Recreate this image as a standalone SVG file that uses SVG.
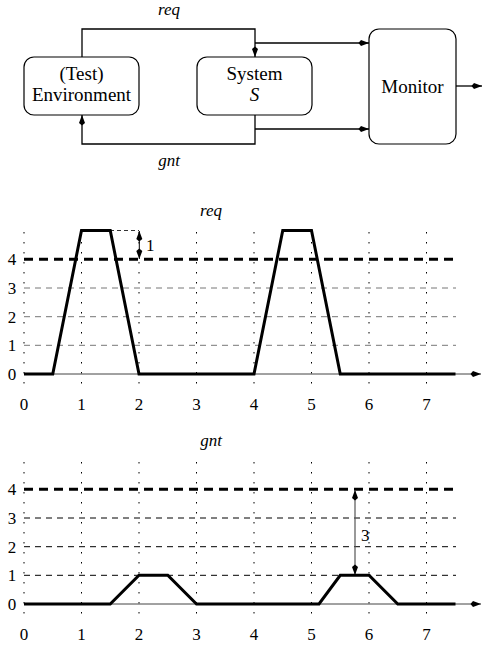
<svg xmlns="http://www.w3.org/2000/svg" width="482" height="647" viewBox="0 0 482 647" font-family="Liberation Serif, DejaVu Serif, serif">
<defs>
<marker id="ah" markerWidth="12" markerHeight="8" refX="11" refY="4" orient="auto" markerUnits="userSpaceOnUse">
<path d="M11,4 L3,1 L0.5,4 L3,7 Z" fill="#000"/>
</marker>
<marker id="ahs" markerWidth="12" markerHeight="8" refX="11" refY="4" orient="auto-start-reverse" markerUnits="userSpaceOnUse">
<path d="M11,4 L3,1 L0.5,4 L3,7 Z" fill="#000"/>
</marker>
</defs>
<style>
.box{fill:#fff;stroke:#000;stroke-width:1.2}
.t{font-size:19px;fill:#000}
.n{font-size:17px;fill:#000}
.i{font-style:italic}
.wire{fill:none;stroke:#000;stroke-width:1.3}
.grid1{stroke:#777;stroke-width:1;stroke-dasharray:6 5}
.grid2{stroke:#000;stroke-width:1;stroke-dasharray:6 5}
.thr{stroke:#000;stroke-width:3;stroke-dasharray:9 6}
.vdot{stroke:#000;stroke-width:1;stroke-dasharray:1.5 8.5}
.axis{stroke:#444;stroke-width:1;fill:none}
.sig{fill:none;stroke:#000;stroke-width:3;stroke-linejoin:miter}
</style>

<!-- Block diagram -->
<g id="connectors">
<path class="wire" d="M82,57 V29 H255 V57" marker-end="url(#ah)"/>
<path class="wire" d="M255,43 H369" marker-end="url(#ah)"/>
<path class="wire" d="M255,115 V144 H82 V115" marker-end="url(#ah)"/>
<path class="wire" d="M255,129 H369" marker-end="url(#ah)"/>
<path class="wire" d="M456,86 H482" marker-end="url(#ah)"/>
<text class="n i" x="169" y="15" text-anchor="middle">req</text>
<text class="n i" x="169" y="166" text-anchor="middle">gnt</text>
</g>
<g id="environment">
<rect class="box" x="24" y="57" width="115" height="58" rx="10"/>
<text class="t" x="81.5" y="80" text-anchor="middle">(Test)</text>
<text class="t" x="81.5" y="101" text-anchor="middle">Environment</text>
</g>
<g id="system">
<rect class="box" x="197" y="57" width="115" height="58" rx="10"/>
<text class="t" x="254.5" y="80" text-anchor="middle">System</text>
<text class="t i" x="254.5" y="101" text-anchor="middle">S</text>
</g>
<g id="monitor">
<rect class="box" x="369" y="29" width="87" height="115" rx="10"/>
<text class="t" x="412.5" y="93" text-anchor="middle">Monitor</text>
</g>

<!-- Chart req -->
<g id="chart-req">
<text class="n i" x="211" y="216" text-anchor="middle">req</text>
<g>
<line class="vdot" x1="24" y1="232" x2="24" y2="386"/>
<line class="vdot" x1="81.5" y1="232" x2="81.5" y2="386"/>
<line class="vdot" x1="139" y1="232" x2="139" y2="386"/>
<line class="vdot" x1="196.5" y1="232" x2="196.5" y2="386"/>
<line class="vdot" x1="254" y1="232" x2="254" y2="386"/>
<line class="vdot" x1="311.5" y1="232" x2="311.5" y2="386"/>
<line class="vdot" x1="369" y1="232" x2="369" y2="386"/>
<line class="vdot" x1="426.5" y1="232" x2="426.5" y2="386"/>
</g>
<line class="grid1" x1="24" y1="345.3" x2="456" y2="345.3"/>
<line class="grid1" x1="24" y1="316.7" x2="456" y2="316.7"/>
<line class="grid1" x1="24" y1="288" x2="456" y2="288"/>
<line class="thr" x1="24" y1="259.3" x2="456" y2="259.3"/>
<line x1="110" y1="230.5" x2="139" y2="230.5" stroke="#000" stroke-width="0.8" stroke-dasharray="4 3"/>
<line x1="139.3" y1="231" x2="139.3" y2="259" stroke="#000" stroke-width="1" marker-start="url(#ahs)" marker-end="url(#ah)"/>
<text class="n" x="146" y="251">1</text>
<line class="axis" x1="24" y1="374" x2="481" y2="374" marker-end="url(#ah)"/>
<polyline class="sig" points="24,374 52.75,374 81.5,230.5 110.25,230.5 139,374 254,374 282.75,230.5 311.5,230.5 340.25,374 455.5,374"/>
<text class="n" x="12" y="380" text-anchor="middle">0</text>
<text class="n" x="12" y="351" text-anchor="middle">1</text>
<text class="n" x="12" y="323" text-anchor="middle">2</text>
<text class="n" x="12" y="294" text-anchor="middle">3</text>
<text class="n" x="12" y="265" text-anchor="middle">4</text>
<text class="n" x="24" y="410" text-anchor="middle">0</text>
<text class="n" x="81.5" y="410" text-anchor="middle">1</text>
<text class="n" x="139" y="410" text-anchor="middle">2</text>
<text class="n" x="196.5" y="410" text-anchor="middle">3</text>
<text class="n" x="254" y="410" text-anchor="middle">4</text>
<text class="n" x="311.5" y="410" text-anchor="middle">5</text>
<text class="n" x="369" y="410" text-anchor="middle">6</text>
<text class="n" x="426.5" y="410" text-anchor="middle">7</text>
</g>

<!-- Chart gnt -->
<g id="chart-gnt">
<text class="n i" x="211" y="446" text-anchor="middle">gnt</text>
<g>
<line class="vdot" x1="24" y1="462" x2="24" y2="616"/>
<line class="vdot" x1="81.5" y1="462" x2="81.5" y2="616"/>
<line class="vdot" x1="139" y1="462" x2="139" y2="616"/>
<line class="vdot" x1="196.5" y1="462" x2="196.5" y2="616"/>
<line class="vdot" x1="254" y1="462" x2="254" y2="616"/>
<line class="vdot" x1="311.5" y1="462" x2="311.5" y2="616"/>
<line class="vdot" x1="369" y1="462" x2="369" y2="616"/>
<line class="vdot" x1="426.5" y1="462" x2="426.5" y2="616"/>
</g>
<line class="grid2" x1="24" y1="575.3" x2="456" y2="575.3"/>
<line class="grid2" x1="24" y1="546.7" x2="456" y2="546.7"/>
<line class="grid2" x1="24" y1="518" x2="456" y2="518"/>
<line class="thr" x1="24" y1="489.3" x2="456" y2="489.3"/>
<line x1="355" y1="490" x2="355" y2="575" stroke="#555" stroke-width="1.2" marker-start="url(#ahs)" marker-end="url(#ah)"/>
<text class="n" x="361" y="541">3</text>
<line class="axis" x1="24" y1="604" x2="481" y2="604" marker-end="url(#ah)"/>
<polyline class="sig" points="24,604 110.25,604 139,575.3 167.75,575.3 196.5,604 319,604 340.25,575.3 369,575.3 397.75,604 455.5,604"/>
<text class="n" x="12" y="610" text-anchor="middle">0</text>
<text class="n" x="12" y="581" text-anchor="middle">1</text>
<text class="n" x="12" y="553" text-anchor="middle">2</text>
<text class="n" x="12" y="524" text-anchor="middle">3</text>
<text class="n" x="12" y="495" text-anchor="middle">4</text>
<text class="n" x="24" y="640" text-anchor="middle">0</text>
<text class="n" x="81.5" y="640" text-anchor="middle">1</text>
<text class="n" x="139" y="640" text-anchor="middle">2</text>
<text class="n" x="196.5" y="640" text-anchor="middle">3</text>
<text class="n" x="254" y="640" text-anchor="middle">4</text>
<text class="n" x="311.5" y="640" text-anchor="middle">5</text>
<text class="n" x="369" y="640" text-anchor="middle">6</text>
<text class="n" x="426.5" y="640" text-anchor="middle">7</text>
</g>
</svg>
